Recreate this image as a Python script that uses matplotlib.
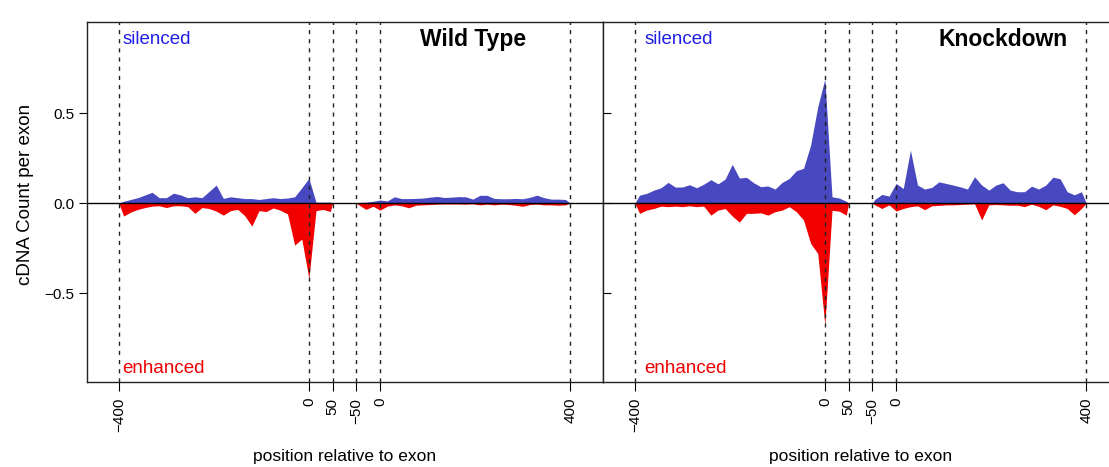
import numpy as np
import matplotlib
matplotlib.use("Agg")
import matplotlib.pyplot as plt

plt.rcParams['font.family'] = ['Liberation Sans', 'DejaVu Sans']

# ---- data: binned cDNA counts per exon (15 nt bins) ----
up_pos = np.arange(-390, 46, 15)   # upstream of exon start
dn_pos = np.arange(-45, 391, 15)   # downstream of exon end

wt_up_sil = [0.01, 0.02, 0.03, 0.045, 0.06, 0.03, 0.03, 0.055, 0.045, 0.03,
             0.035, 0.03, 0.065, 0.10, 0.026, 0.035, 0.03, 0.025, 0.025, 0.02,
             0.025, 0.03, 0.025, 0.028, 0.035, 0.085, 0.137, 0.005, 0.005, 0.005]
wt_up_enh = [-0.072, -0.05, -0.035, -0.025, -0.017, -0.015, -0.025, -0.015, -0.015, -0.02,
             -0.057, -0.025, -0.03, -0.045, -0.067, -0.042, -0.035, -0.07, -0.128, -0.042,
             -0.047, -0.027, -0.04, -0.06, -0.233, -0.2, -0.418, -0.042, -0.035, -0.047]
wt_dn_sil = [0.003, 0.005, 0.01, 0.017, 0.012, 0.035, 0.025, 0.025, 0.026, 0.028,
             0.033, 0.037, 0.031, 0.033, 0.036, 0.035, 0.022, 0.043, 0.043, 0.026,
             0.024, 0.024, 0.026, 0.024, 0.032, 0.044, 0.03, 0.022, 0.022, 0.02]
wt_dn_enh = [-0.01, -0.035, -0.018, -0.039, -0.017, -0.01, -0.015, -0.026, -0.012, -0.01,
             -0.008, -0.006, -0.005, -0.005, -0.005, -0.006, -0.004, -0.01, -0.006, -0.01,
             -0.006, -0.008, -0.012, -0.018, -0.008, -0.006, -0.01, -0.01, -0.012, -0.01]

kd_up_sil = [0.044, 0.054, 0.072, 0.085, 0.115, 0.089, 0.089, 0.102, 0.085, 0.105,
             0.13, 0.107, 0.133, 0.215, 0.139, 0.143, 0.113, 0.091, 0.095, 0.078,
             0.115, 0.137, 0.18, 0.193, 0.322, 0.535, 0.69, 0.035, 0.028, 0.01]
kd_up_enh = [-0.057, -0.039, -0.03, -0.017, -0.02, -0.017, -0.02, -0.015, -0.02, -0.017,
             -0.067, -0.039, -0.03, -0.072, -0.106, -0.057, -0.057, -0.054, -0.067, -0.048,
             -0.039, -0.02, -0.048, -0.094, -0.224, -0.28, -0.678, -0.04, -0.045, -0.067]
kd_dn_sil = [0.02, 0.048, 0.039, 0.109, 0.081, 0.294, 0.1, 0.078, 0.087, 0.118,
             0.109, 0.1, 0.09, 0.078, 0.146, 0.1, 0.072, 0.1, 0.113, 0.072,
             0.063, 0.063, 0.094, 0.078, 0.1, 0.144, 0.135, 0.063, 0.046, 0.063]
kd_dn_enh = [-0.01, -0.03, -0.01, -0.044, -0.03, -0.02, -0.015, -0.037, -0.015, -0.013,
             -0.01, -0.01, -0.008, -0.006, -0.004, -0.094, -0.01, -0.008, -0.01, -0.012,
             -0.012, -0.02, -0.006, -0.018, -0.037, -0.01, -0.018, -0.03, -0.065, -0.03]

up_marks = [-400, 0, 50]
dn_marks = [-50, 0, 400]
mark_labels = ['\u2212400', '0', '50', '\u221250', '0', '400']

# downstream segment is drawn shifted right, leaving a gap after the upstream one
DN_SHIFT = 150
BLUE = '#4848C0'
RED = '#F20000'


def padded(pos, vals, lo, hi):
    return np.r_[lo, pos, hi], np.r_[0, vals, 0]


def draw_panel(ax, title, title_x, label_x, up_sil, up_enh, dn_sil, dn_enh):
    for vals, col in ((up_sil, BLUE), (up_enh, RED)):
        x, y = padded(up_pos, vals, -400, 50)
        ax.fill_between(x, 0, y, color=col, lw=0)
    for vals, col in ((dn_sil, BLUE), (dn_enh, RED)):
        x, y = padded(dn_pos, vals, -50, 400)
        ax.fill_between(x + DN_SHIFT, 0, y, color=col, lw=0)

    ticks = up_marks + [m + DN_SHIFT for m in dn_marks]
    for t in ticks:
        ax.axvline(t, color='#222222', lw=1.0, linestyle=(0, (3.0, 3.6)))
    ax.axhline(0, color='black', lw=1.0)

    ax.set_xlim(-467, 619)
    ax.set_ylim(-0.994, 1.006)
    ax.set_xticks(ticks, mark_labels)
    ax.tick_params(axis='x', length=6.5, width=0.8, labelrotation=90,
                   labelsize=11, pad=5)
    ax.set_xlabel('position relative to exon', fontsize=12.5)
    ax.xaxis.set_label_coords(0.5, -0.185)

    ax.text(label_x, 0.906, 'silenced', color='#1E1EE6', fontsize=13.5,
            ha='left', va='center')
    ax.text(label_x, -0.917, 'enhanced', color='#F00000', fontsize=13.5,
            ha='left', va='center')
    ax.text(title_x, 0.906, title, fontsize=16.5, fontweight='bold',
            ha='left', va='center')

    for s in ax.spines.values():
        s.set_linewidth(1.0)
        s.set_color('#222222')


fig = plt.figure(figsize=(11.09, 4.67), dpi=100)
ax1 = fig.add_axes([87 / 1109, 85 / 467, 516 / 1109, 360 / 467])
ax2 = fig.add_axes([603 / 1109, 85 / 467, 516 / 1109, 360 / 467])

draw_panel(ax1, 'Wild Type', 234, -392, wt_up_sil, wt_up_enh, wt_dn_sil, wt_dn_enh)
draw_panel(ax2, 'Knockdown', 240, -380, kd_up_sil, kd_up_enh, kd_dn_sil, kd_dn_enh)

ax1.set_yticks([-0.5, 0, 0.5], ['\u22120.5', '0.0', '0.5'])
ax1.tick_params(axis='y', direction='out', length=6, width=0.8, labelsize=11, pad=3)
ax1.set_ylabel('cDNA Count per exon', fontsize=13.5)
ax1.yaxis.set_label_coords(-0.103, 0.52)

ax2.set_yticks([-0.5, 0, 0.5])
ax2.tick_params(axis='y', direction='in', length=6, width=0.8, labelleft=False)

fig.savefig('out.png', dpi=100)
